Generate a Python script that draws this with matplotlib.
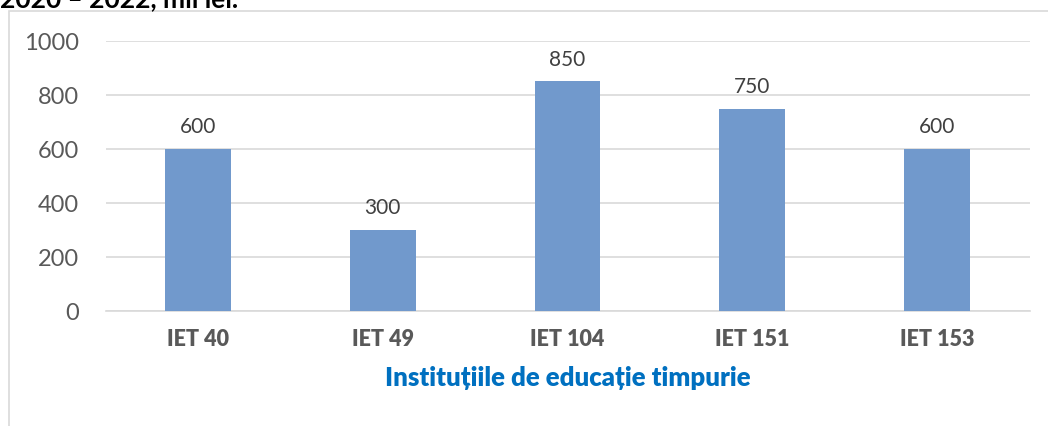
import matplotlib.pyplot as plt
from matplotlib.patches import Rectangle

# date (mii lei)
institutii = ["IET 40", "IET 49", "IET 104", "IET 151", "IET 153"]
valori = [600, 300, 850, 750, 600]
y_ticks = [0, 200, 400, 600, 800, 1000]

plt.rcParams['font.family'] = ['Lato', 'DejaVu Sans']

fig = plt.figure(figsize=(10.48, 4.27), dpi=100)
ax = fig.add_axes([105.5 / 1048, 115 / 427, 924 / 1048, 270 / 427])

x = range(len(institutii))
bars = ax.bar(x, valori, width=0.357, color="#7199CC", zorder=3)

for b, v in zip(bars, valori):
    ax.annotate(str(v), (b.get_x() + b.get_width() / 2, v),
                xytext=(0, 9), textcoords="offset points",
                ha="center", va="bottom", fontsize=15, color="#404040")

ax.set_xlim(-0.5, len(institutii) - 0.5)
ax.set_ylim(0, 1000)
ax.set_yticks(y_ticks)
ax.set_xticks(list(x))
ax.set_xticklabels(institutii, fontsize=15.5, fontweight="heavy", color="#595959")
ax.tick_params(axis="y", labelsize=17, labelcolor="#595959", length=0, pad=19)
ax.tick_params(axis="x", length=0, pad=12)
ax.grid(axis="y", color="#D9D9D9", linewidth=1.2, zorder=0)
for s in ["top", "right", "left"]:
    ax.spines[s].set_visible(False)
ax.spines["bottom"].set_color("#D9D9D9")
ax.spines["bottom"].set_linewidth(1.2)

ax.set_xlabel("Instituțiile de educație timpurie", fontsize=18.5,
              fontweight="heavy", color="#0070C0", labelpad=12)

# chenarul graficului
fig.patches.append(Rectangle((9 / 1048, -0.1), 1.2, (427 - 12) / 427 + 0.1,
                             transform=fig.transFigure, fill=False,
                             edgecolor="#D9D9D9", linewidth=1.2))

# titlul taiat sus, ca in original
fig.text(0.0, 1 - 7 / 427, "2020 – 2022, mii lei.", fontsize=19,
         fontweight="bold", color="black", va="baseline", ha="left")

fig.savefig("out.png", dpi=100)
